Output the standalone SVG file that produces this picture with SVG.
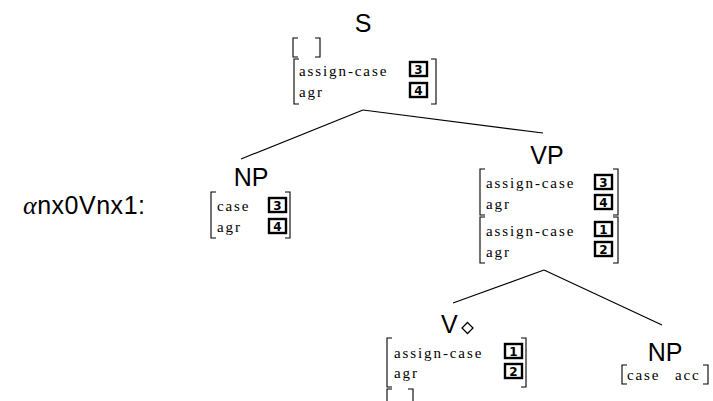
<svg xmlns="http://www.w3.org/2000/svg" width="713" height="401" viewBox="0 0 713 401">
  <style>
    .cat { font-family: "Liberation Sans", Arial, sans-serif; font-size: 25px; fill: #000; }
    .feat { font-family: "Liberation Serif", "Times New Roman", serif; font-size: 15px; letter-spacing: 1.9px; fill: #000; }
    .br { fill: none; stroke: #000; stroke-width: 1.1; }
    .tag rect { fill: #fff; stroke: #000; stroke-width: 2.4; }
    .tag text { font-family: "DejaVu Sans", sans-serif; font-weight: bold; font-size: 12px; text-anchor: middle; fill: #000; }
    .edge { stroke: #000; stroke-width: 1.2; fill: none; }
  </style>

  <!-- tree label -->
  <g id="tree-label">
    <text x="23" y="214" class="cat" font-size="24" textLength="122" lengthAdjust="spacing"><tspan font-family="Liberation Serif, serif" font-style="italic" font-size="26">α</tspan>nx0Vnx1:</text>
  </g>

  <!-- connectors -->
  <g id="edges">
    <line class="edge" x1="363" y1="110" x2="241" y2="159"/>
    <line class="edge" x1="363" y1="110" x2="543" y2="133"/>
    <line class="edge" x1="544" y1="270" x2="453" y2="303"/>
    <line class="edge" x1="544" y1="270" x2="662" y2="325"/>
  </g>

  <!-- S root -->
  <g id="node-S">
    <text x="363" y="32" class="cat" font-size="28" text-anchor="middle">S</text>
    <path class="br" d="M298,38 H293 V57 H298 M315,38 H320 V57 H315"/>
    <path class="br" d="M299,59 H294 V104 H299 M431,59 H436 V104 H431"/>
    <text x="299" y="76" class="feat">assign-case</text>
    <text x="299" y="97" class="feat">agr</text>
    <g class="tag"><rect x="410" y="62" width="17" height="14"/><text x="418.5" y="73.5">3</text></g>
    <g class="tag"><rect x="410" y="83" width="17" height="14"/><text x="418.5" y="94.5">4</text></g>
  </g>

  <!-- NP subject -->
  <g id="node-NP0">
    <text x="251" y="186" class="cat" text-anchor="middle">NP</text>
    <path class="br" d="M216,192 H211 V238 H216 M285,192 H290 V238 H285"/>
    <text x="217" y="211" class="feat">case</text>
    <text x="217" y="232" class="feat">agr</text>
    <g class="tag"><rect x="269" y="198" width="17" height="14"/><text x="277.5" y="209.5">3</text></g>
    <g class="tag"><rect x="269" y="219" width="17" height="14"/><text x="277.5" y="230.5">4</text></g>
  </g>

  <!-- VP -->
  <g id="node-VP">
    <text x="547" y="164" class="cat" text-anchor="middle">VP</text>
    <path class="br" d="M485,169 H480 V215 H485 M613,169 H618 V215 H613"/>
    <text x="486" y="188" class="feat">assign-case</text>
    <text x="486" y="209" class="feat">agr</text>
    <g class="tag"><rect x="595" y="175" width="17" height="14"/><text x="603.5" y="186.5">3</text></g>
    <g class="tag"><rect x="595" y="195" width="17" height="14"/><text x="603.5" y="206.5">4</text></g>
    <path class="br" d="M485,217 H480 V263 H485 M613,217 H618 V263 H613"/>
    <text x="486" y="236" class="feat">assign-case</text>
    <text x="486" y="257" class="feat">agr</text>
    <g class="tag"><rect x="595" y="222" width="17" height="14"/><text x="603.5" y="233.5">1</text></g>
    <g class="tag"><rect x="595" y="242" width="17" height="14"/><text x="603.5" y="253.5">2</text></g>
  </g>

  <!-- V anchor -->
  <g id="node-V">
    <text x="441" y="333" class="cat">V</text>
    <polygon points="467.5,322.5 473,328 467.5,333.5 462,328" fill="none" stroke="#000" stroke-width="1.3"/>
    <path class="br" d="M392,338 H387 V387 H392 M521,338 H526 V387 H521"/>
    <text x="394" y="358" class="feat">assign-case</text>
    <text x="394" y="378" class="feat">agr</text>
    <g class="tag"><rect x="505" y="344" width="17" height="14"/><text x="513.5" y="355.5">1</text></g>
    <g class="tag"><rect x="505" y="364" width="17" height="14"/><text x="513.5" y="375.5">2</text></g>
    <path class="br" d="M392,389 H387 V402 M408,389 H413 V402"/>
  </g>

  <!-- NP object -->
  <g id="node-NP1">
    <text x="665" y="361" class="cat" text-anchor="middle">NP</text>
    <path class="br" d="M627,365 H622 V384 H627 M703,365 H708 V384 H703"/>
    <text x="627" y="380" class="feat">case</text>
    <text x="675" y="380" class="feat">acc</text>
  </g>
</svg>
